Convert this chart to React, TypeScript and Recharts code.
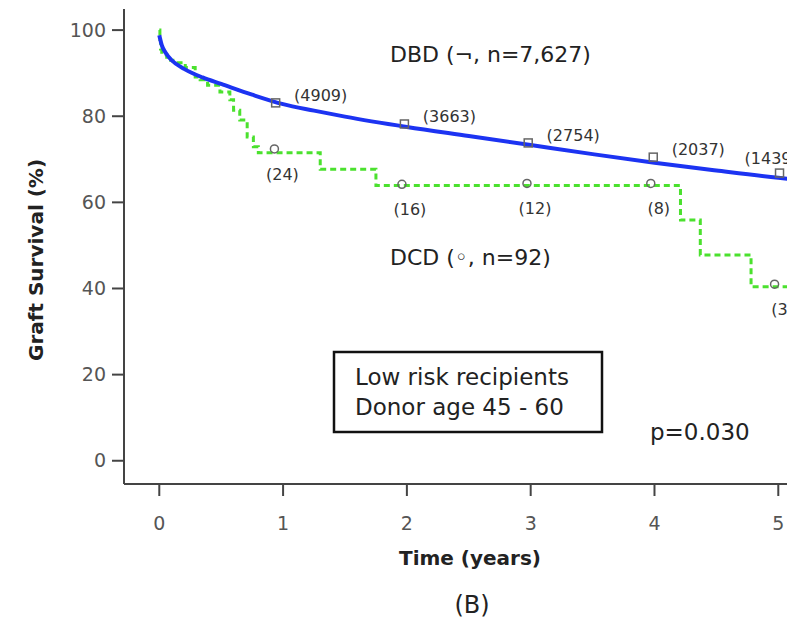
import { ComposedChart, Line, Scatter, XAxis, YAxis } from "recharts"

// Kaplan-Meier curves (time in years, survival in %)
const dbdTimes = [0, 0.02, 0.05, 0.1, 0.2, 0.35, 0.5, 0.75, 1, 1.25, 1.5, 2, 2.5, 3, 3.5, 4, 4.5, 5, 5.135]
const dbdSurvival = [98.8, 96.5, 94.8, 93.0, 91.0, 89.0, 87.5, 85.0, 82.8, 81.3, 79.9, 77.5, 75.4, 73.3, 71.2, 69.2, 67.4, 65.7, 65.3]

const dcdTimes = [0, 0.005, 0.01, 0.02, 0.06, 0.11, 0.21, 0.29, 0.33, 0.39, 0.49, 0.57, 0.6, 0.65, 0.71, 0.76, 0.8, 1.3, 1.75, 4.21, 4.37, 4.78, 5.135]
const dcdSurvival = [100, 97.8, 95.6, 94.3, 93.0, 92.4, 91.3, 89.1, 88.5, 87.2, 85.6, 83.8, 81.4, 79.1, 75.2, 72.9, 71.5, 67.7, 63.9, 55.9, 47.8, 40.4, 40.4]

// censor marks with number at risk
const dbdMarkTimes = [0.94, 1.98, 2.98, 3.99, 5.01]
const dbdMarkSurvival = [83.1, 78.2, 73.8, 70.5, 66.8]
const dbdAtRisk = ["4909", "3663", "2754", "2037", "1439"]

const dcdMarkTimes = [0.93, 1.96, 2.97, 3.97, 4.97]
const dcdMarkSurvival = [72.4, 64.2, 64.4, 64.4, 41.0]
const dcdAtRisk = ["24", "16", "12", "8", "3"]

const xTicks = [0, 1, 2, 3, 4, 5]
const yTicks = [0, 20, 40, 60, 80, 100]

const FONT = "'DejaVu Sans', Verdana, sans-serif"

const dbdData = dbdTimes.map((t, i) => ({ t, v: dbdSurvival[i] }))
const dcdData = dcdTimes.map((t, i) => ({ t, v: dcdSurvival[i] }))
const dbdMarks = dbdMarkTimes.map((t, i) => ({ t, v: dbdMarkSurvival[i], n: dbdAtRisk[i] }))
const dcdMarks = dcdMarkTimes.map((t, i) => ({ t, v: dcdMarkSurvival[i], n: dcdAtRisk[i] }))

const lastDbd = dbdMarkTimes[dbdMarkTimes.length - 1]

function SquareMark(props: any) {
  const { cx, cy, payload } = props
  const last = payload.t === lastDbd
  return <g>
    <rect x={cx - 4} y={cy - 4} width={8} height={8} fill="none" stroke="#666" strokeWidth={1.5} />
    <text x={last ? cx - 35 : cx + 45} y={last ? cy - 9 : cy - 2} textAnchor={last ? "start" : "middle"}
      fontFamily={FONT} fontSize={16} fill="#333">({payload.n})</text>
  </g>
}

function CircleMark(props: any) {
  const { cx, cy, payload } = props
  return <g>
    <circle cx={cx} cy={cy} r={4} fill="none" stroke="#666" strokeWidth={1.5} />
    <text x={cx + 8} y={cy + 31} textAnchor="middle" fontFamily={FONT} fontSize={16} fill="#333">({payload.n})</text>
  </g>
}

export default function App() {
  const axisStyle = { stroke: "#444", strokeWidth: 2 }
  const tickStyle = { fill: "#555", fontSize: 19, fontFamily: FONT }

  return <div style={{ position: "relative", width: 795, height: 625, margin: -8, background: "#fff", overflow: "hidden" }}>
    <ComposedChart width={795} height={625} margin={{ top: 9, right: 0, bottom: 0, left: 0 }}>
      <XAxis type="number" dataKey="t" domain={[-0.285, 5.135]} ticks={xTicks} allowDataOverflow
        height={141} tickSize={12} tickMargin={21} axisLine={axisStyle} tickLine={axisStyle} tick={tickStyle} />
      <YAxis type="number" dataKey="v" domain={[-5.4, 104.9]} ticks={yTicks} allowDataOverflow
        width={124} tickSize={12} tickMargin={6} axisLine={axisStyle} tickLine={axisStyle} tick={tickStyle} />
      <Scatter data={dbdMarks} dataKey="v" shape={SquareMark} isAnimationActive={false} />
      <Scatter data={dcdMarks} dataKey="v" shape={CircleMark} isAnimationActive={false} />
      <Line data={dcdData} dataKey="v" type="stepAfter" stroke="#4be12e" strokeWidth={3}
        strokeDasharray="6 4" dot={false} isAnimationActive={false} />
      <Line data={dbdData} dataKey="v" type="monotone" stroke="#1c33f2" strokeWidth={4}
        dot={false} isAnimationActive={false} />
    </ComposedChart>

    <svg width={795} height={625} style={{ position: "absolute", left: 0, top: 0, pointerEvents: "none" }}>
      <g fontFamily={FONT} fill="#222">
        <text x={390} y={62} fontSize={22}>DBD (¬, n=7,627)</text>
        <text x={390} y={265} fontSize={22}>DCD (◦, n=92)</text>
        <rect x={334} y={352} width={268} height={80} fill="none" stroke="#111" strokeWidth={2.5} />
        <text x={355} y={385} fontSize={23}>Low risk recipients</text>
        <text x={355} y={415} fontSize={23}>Donor age 45 - 60</text>
        <text x={650} y={440} fontSize={23}>p=0.030</text>
        <text x={470} y={565} fontSize={20} fontWeight="bold" textAnchor="middle">Time (years)</text>
        <text x={472} y={613} fontSize={24} textAnchor="middle">(B)</text>
        <text transform="translate(43, 260) rotate(-90)" fontSize={20} fontWeight="bold" textAnchor="middle">Graft Survival (%)</text>
      </g>
    </svg>
  </div>
}
